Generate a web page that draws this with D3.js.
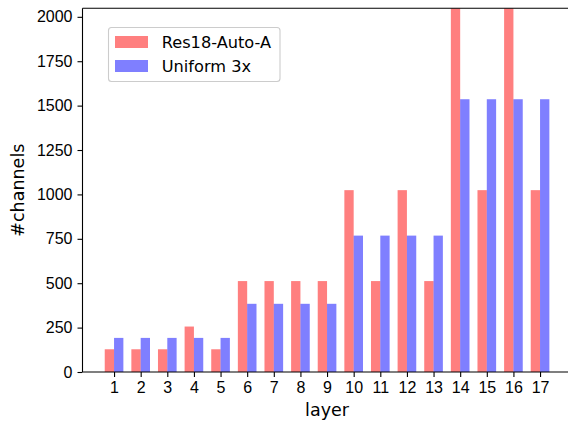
<!DOCTYPE html>
<html>
<head>
<meta charset="utf-8">
<script src="https://cdn.jsdelivr.net/npm/d3@7"></script>
<style>
  body { margin: 0; background: #fff; }
  svg { display: block; font-family: "DejaVu Sans", sans-serif; }
  .axis path, .axis line { stroke: #000; stroke-width: 1.1; }
  .axis text { font-size: 16px; fill: #000; }
</style>
</head>
<body>
<script>
const layers = [1, 2, 3, 4, 5, 6, 7, 8, 9, 10, 11, 12, 13, 14, 15, 16, 17]
const autoA = [128, 128, 128, 256, 128, 512, 512, 512, 512, 1024, 512, 1024, 512, 2048, 1024, 2048, 1024]
const uniform3x = [192, 192, 192, 192, 192, 384, 384, 384, 384, 768, 768, 768, 768, 1536, 1536, 1536, 1536]
const yTicks = [0, 250, 500, 750, 1000, 1250, 1500, 1750, 2000]
const seriesNames = ['Res18-Auto-A', 'Uniform 3x']

const svgWidth = 568, svgHeight = 421
const plotLeft = 82.5, plotTop = 8.3, plotBottom = 372
const barW = 0.35

const svg = d3.select('body').append('svg')
  .attr('width', svgWidth)
  .attr('height', svgHeight)

// matplotlib-like limits: bars span [-w, n-1+w], 5% margin
const n = layers.length
const span = (n - 1) + 2 * barW
const x = d3.scaleLinear()
  .domain([-barW - 0.05 * span, n - 1 + barW + 0.05 * span])
  .range([plotLeft, plotLeft + 26.625 * (span * 1.1)])

const y = d3.scaleLinear().domain([0, 2048]).range([plotBottom, plotTop])

const colors = ['rgba(255,0,0,0.5)', 'rgba(0,0,255,0.5)']

svg.append('g').selectAll('rect')
  .data(autoA)
  .join('rect')
  .attr('x', (d, i) => x(i - barW))
  .attr('width', (d, i) => x(i) - x(i - barW))
  .attr('y', d => y(d))
  .attr('height', d => y(0) - y(d))
  .attr('fill', colors[0])

svg.append('g').selectAll('rect')
  .data(uniform3x)
  .join('rect')
  .attr('x', (d, i) => x(i))
  .attr('width', (d, i) => x(i + barW) - x(i))
  .attr('y', d => y(d))
  .attr('height', d => y(0) - y(d))
  .attr('fill', colors[1])

const xAxis = d3.axisBottom(x)
  .tickValues(d3.range(n))
  .tickFormat(i => layers[i])
  .tickSize(5)
  .tickPadding(5)

const yAxis = d3.axisLeft(y)
  .tickValues(yTicks)
  .tickFormat(d3.format('d'))
  .tickSize(5)
  .tickPadding(5)

svg.append('g')
  .attr('class', 'axis')
  .attr('transform', 'translate(0,' + plotBottom + ')')
  .call(xAxis)
  .call(g => g.select('.domain').remove())

svg.append('g')
  .attr('class', 'axis')
  .attr('transform', 'translate(' + plotLeft + ',0)')
  .call(yAxis)
  .call(g => g.select('.domain').remove())

// spines
svg.append('line')
  .attr('x1', plotLeft).attr('x2', svgWidth + 10)
  .attr('y1', plotBottom).attr('y2', plotBottom)
  .attr('stroke', '#000').attr('stroke-width', 1.1)
svg.append('line')
  .attr('x1', plotLeft).attr('x2', svgWidth + 10)
  .attr('y1', plotTop).attr('y2', plotTop)
  .attr('stroke', '#000').attr('stroke-width', 1.1)
svg.append('line')
  .attr('x1', plotLeft).attr('x2', plotLeft)
  .attr('y1', plotTop).attr('y2', plotBottom)
  .attr('stroke', '#000').attr('stroke-width', 1.1)

// axis labels
svg.append('text')
  .attr('x', (x.range()[0] + x.range()[1]) / 2)
  .attr('y', 416)
  .attr('text-anchor', 'middle')
  .attr('font-size', '17.5px')
  .text('layer')

svg.append('text')
  .attr('transform', 'translate(24,' + (plotTop + plotBottom) / 2 + ') rotate(-90)')
  .attr('text-anchor', 'middle')
  .attr('font-size', '17.5px')
  .text('#channels')

// legend
const legend = svg.append('g')
legend.append('rect')
  .attr('x', 108.5).attr('y', 27.5)
  .attr('width', 171.5).attr('height', 54)
  .attr('rx', 3)
  .attr('fill', 'rgba(255,255,255,0.8)')
  .attr('stroke', '#ccc')
  .attr('stroke-width', 1.1)

seriesNames.forEach(function(name, i) {
  legend.append('rect')
    .attr('x', 115).attr('y', 36 + i * 24)
    .attr('width', 33).attr('height', 12)
    .attr('fill', colors[i])
  legend.append('text')
    .attr('x', 161.7).attr('y', 47.5 + i * 24)
    .attr('font-size', '16.2px')
    .text(name)
})
</script>
</body>
</html>
